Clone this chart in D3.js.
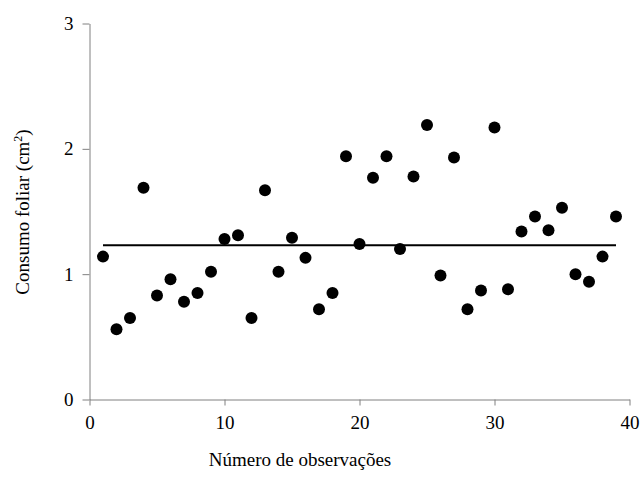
<!DOCTYPE html>
<html>
<head>
<meta charset="utf-8">
<script src="https://cdn.jsdelivr.net/npm/d3@7"></script>
<style>
  body { margin: 0; background: #fff; }
  text { font-family: "Liberation Serif", "Times New Roman", serif; fill: #000; }
</style>
</head>
<body>
<svg id="chart" width="642" height="482"></svg>
<script>
// observações 1..39
var obs = d3.range(1, 40);
var consumo = [1.14, 0.56, 0.65, 1.69, 0.83, 0.96, 0.78, 0.85, 1.02, 1.28,
               1.31, 0.65, 1.67, 1.02, 1.29, 1.13, 0.72, 0.85, 1.94, 1.24,
               1.77, 1.94, 1.20, 1.78, 2.19, 0.99, 1.93, 0.72, 0.87, 2.17,
               0.88, 1.34, 1.46, 1.35, 1.53, 1.00, 0.94, 1.14, 1.46];
var media = 1.23;
var xTicks = [0, 10, 20, 30, 40];
var yTicks = [0, 1, 2, 3];

var svg = d3.select('#chart');

var x = d3.scaleLinear().domain([0, 40]).range([89.5, 629.5]);
var y = d3.scaleLinear().domain([0, 3]).range([399.5, 23.5]);

var axisColor = '#808080';
var serif = '"Liberation Serif", "Times New Roman", serif';

// eixo x
var gx = svg.append('g')
    .attr('transform', 'translate(0,' + y(0) + ')')
    .call(d3.axisBottom(x).tickValues(xTicks).tickFormat(d3.format('d'))
        .tickSize(6).tickPadding(10).tickSizeOuter(0));
gx.attr('font-family', serif).attr('font-size', 19);
gx.select('.domain').attr('stroke', axisColor);
gx.selectAll('.tick line').attr('stroke', axisColor);
gx.selectAll('.tick text').attr('fill', '#000');

// eixo y
var gy = svg.append('g')
    .attr('transform', 'translate(' + x(0) + ',0)')
    .call(d3.axisLeft(y).tickValues(yTicks).tickFormat(d3.format('d'))
        .tickSize(7).tickPadding(9).tickSizeOuter(0));
gy.attr('font-family', serif).attr('font-size', 19);
gy.select('.domain').attr('stroke', axisColor);
gy.selectAll('.tick line').attr('stroke', axisColor);
gy.selectAll('.tick text').attr('fill', '#000');

// linha da média
svg.append('line')
    .attr('x1', x(1)).attr('x2', x(39))
    .attr('y1', y(media)).attr('y2', y(media))
    .attr('stroke', '#000')
    .attr('stroke-width', 2);

// pontos
svg.selectAll('circle.pt')
    .data(obs)
    .enter()
    .append('circle')
    .attr('class', 'pt')
    .attr('cx', (d) => x(d))
    .attr('cy', (d, i) => y(consumo[i]))
    .attr('r', 6)
    .attr('fill', '#000');

// títulos
svg.append('text')
    .attr('x', 300)
    .attr('y', 466)
    .attr('text-anchor', 'middle')
    .style('font-size', '19px')
    .text('Número de observações');

var yl = svg.append('text')
    .attr('transform', 'translate(29,212) rotate(-90)')
    .attr('text-anchor', 'middle')
    .style('font-size', '19px');
yl.append('tspan').text('Consumo foliar (cm');
yl.append('tspan').attr('dy', -7).style('font-size', '12px').text('2');
yl.append('tspan').attr('dy', 7).text(')');
</script>
</body>
</html>
